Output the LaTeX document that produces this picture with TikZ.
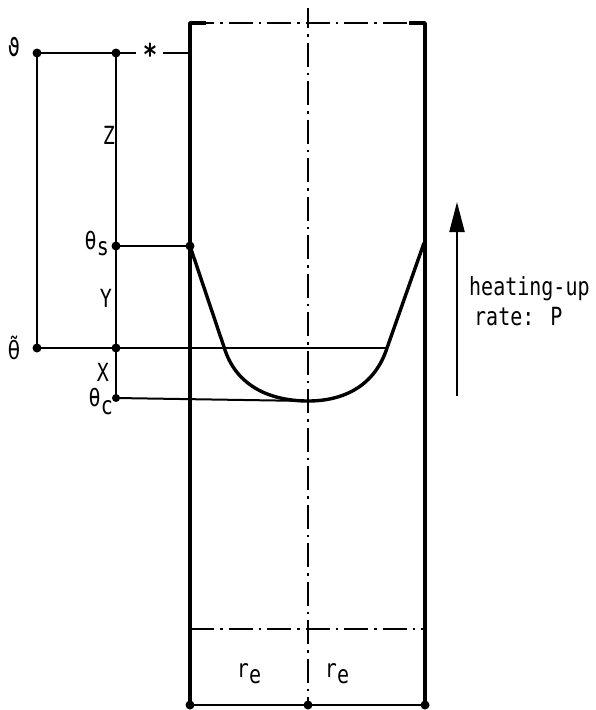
\documentclass[tikz,border=0pt]{standalone}
\usepackage{fontspec}
\setmainfont[FakeStretch=0.8]{DejaVu Sans Mono}
\newfontfamily\dvsfont[FakeStretch=0.8]{DejaVu Sans}
\usetikzlibrary{arrows.meta}
\begin{document}
\begin{tikzpicture}[x=1pt,y=-1pt,
  thin line/.style={line width=2pt},
  thick line/.style={line width=3.4pt},
  dashdot/.style={line width=2pt,dash pattern=on 24pt off 6pt on 2.5pt off 6pt},
  dotpt/.style={circle,fill=black,inner sep=0pt,minimum size=9pt},
  lbl/.style={font=\fontsize{25}{30}\selectfont,inner sep=0pt}]
\useasboundingbox (0,0) rectangle (595,710);
% points
\node[dotpt] (t1) at (37,53) {};
\node[dotpt] (t2) at (116,53) {};
\node[dotpt] (tt1) at (37,348) {};
\node[dotpt] (tt2) at (116,348) {};
\node[dotpt] (s1) at (116,246) {};
\node[dotpt] (s2) at (190,246) {};
\node[dotpt,minimum size=8pt] (c1) at (116,398) {};
\coordinate (c2) at (308,401);
\coordinate (ttR) at (387,348);
\coordinate (sR) at (424,243);
\coordinate (cl) at (225,350);
\coordinate (tl1) at (190,23);
\coordinate (tr1) at (425,23);
\node[dotpt] (bl) at (190,705) {};
\node[dotpt] (bm) at (308,705) {};
\node[dotpt] (br) at (425,705) {};
\coordinate (ctop) at (308,8);
\coordinate (bdl) at (190,629);
\coordinate (bdr) at (425,629);
% container
\draw[thick line] (tl1) -- (bl.center);
\draw[thick line] (tr1) -- (br.center);
\draw[thick line,line join=round] (190,26) -- (190,23) -- (206,23);
\draw[thick line,line join=round] (409,23) -- (425,23) -- (425,26);
\draw[dashdot] (tl1) -- (tr1);
\draw[dashdot] (bdl) -- (bdr);
\draw[dashdot,dash phase=4pt] (ctop) -- (bm.center);
\draw[thin line] (bl.center) -- (bm.center) -- (br.center);
% star line
\node[lbl,font=\fontsize{30}{30}\selectfont\bfseries] (star) at (150,54) {*};
\draw[thin line] (t1.center) -- (t2.center) -- (136,53);
\draw[thin line] (163,53) -- (190,53);
% verticals
\draw[thin line] (t1.center) -- (tt1.center);
\draw[thin line] (t2.center) -- (c1.center);
% horizontals
\draw[thin line] (tt1.center) -- (ttR);
\draw[thin line] (s1.center) -- (s2.center);
\draw[thin line] (c1.center) -- (c2);
% curve
\draw[thick line,line join=round] (s2.center) -- (cl) .. controls (237,386) and (270,401) .. (c2)
  .. controls (345,401) and (375,385) .. (ttR) -- (sR);
% labels
\node[lbl] (lt) at (14,47) {ϑ};
\node[lbl] (ltt) at (14,348) {\dvsfont θ̃};
\node[lbl,anchor=east] (ls) at (109,244) {θ\raisebox{-6pt}{s}};
\node[lbl,anchor=east] (lc) at (113,402) {θ\raisebox{-8pt}{c}};
\node[lbl] (lZ) at (109,135) {Z};
\node[lbl] (lY) at (106,298) {Y};
\node[lbl] (lX) at (103,372) {X};
\node[lbl] (re1) at (249,674) {r\raisebox{-6pt}{e}};
\node[lbl] (re2) at (337,674) {r\raisebox{-6pt}{e}};
% arrow
\coordinate (a1) at (457,396);
\coordinate (a2) at (457,202);
\draw[line width=2.2pt,-{Triangle[length=30pt,width=15pt]}] (a1) -- (a2);
\node[lbl,anchor=base west] (h1) at (469,295) {heating-up};
\node[lbl,anchor=base west] (h2) at (474,325) {rate: P};
\end{tikzpicture}
\end{document}
